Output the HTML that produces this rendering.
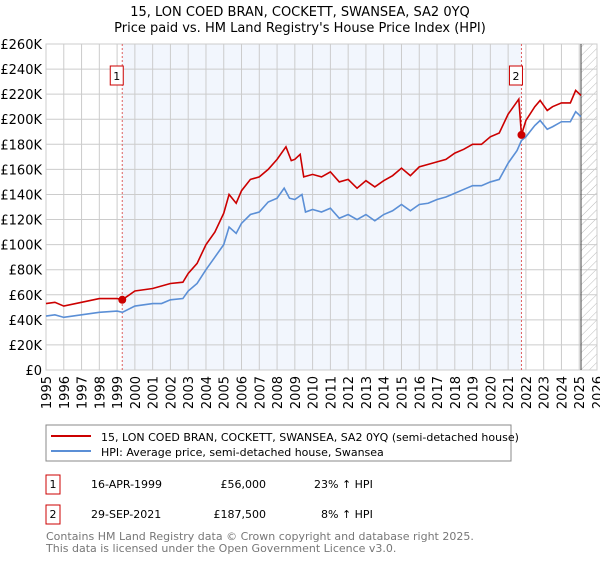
<!DOCTYPE html>
<html><head><meta charset="utf-8"><style>
body{margin:0;background:#fff;font-family:"DejaVu Sans","Liberation Sans",sans-serif;}
svg text{font-family:"DejaVu Sans","Liberation Sans",sans-serif;}
</style></head><body>
<svg id="chart" width="600" height="560" xmlns="http://www.w3.org/2000/svg">
<defs><pattern id="hatch" width="6" height="6" patternUnits="userSpaceOnUse" patternTransform="rotate(45)"><line x1="0" y1="0" x2="0" y2="6" stroke="#bbb" stroke-width="1"/></pattern></defs>
<text x="300" y="16" text-anchor="middle" font-size="13">15, LON COED BRAN, COCKETT, SWANSEA, SA2 0YQ</text>
<text x="300" y="32" text-anchor="middle" font-size="13">Price paid vs. HM Land Registry's House Price Index (HPI)</text>
<g id="plot"></g>
<rect x="46" y="425" width="465" height="36" fill="#fff" stroke="#888"/>
<line x1="51" y1="436" x2="91" y2="436" stroke="#cc0000" stroke-width="2"/>
<text x="101" y="441" font-size="11">15, LON COED BRAN, COCKETT, SWANSEA, SA2 0YQ (semi-detached house)</text>
<line x1="51" y1="451" x2="91" y2="451" stroke="#5b8fd6" stroke-width="2"/>
<text x="101" y="456" font-size="11">HPI: Average price, semi-detached house, Swansea</text>
<g font-size="11">
<rect x="46" y="475" width="14" height="19" fill="#fff" stroke="#cc0000"/>
<text x="53" y="488" text-anchor="middle">1</text>
<text x="91" y="488">16-APR-1999</text><text x="266" y="488" text-anchor="end">£56,000</text><text x="314" y="488">23% ↑ HPI</text>
<rect x="46" y="505" width="14" height="19" fill="#fff" stroke="#cc0000"/>
<text x="53" y="518" text-anchor="middle">2</text>
<text x="91" y="518">29-SEP-2021</text><text x="266" y="518" text-anchor="end">£187,500</text><text x="321" y="518">8% ↑ HPI</text>
</g>
<text x="46" y="540" font-size="11" fill="#777">Contains HM Land Registry data © Crown copyright and database right 2025.</text>
<text x="46" y="552" font-size="11" fill="#777">This data is licensed under the Open Government Licence v3.0.</text>
</svg>
<script>
const hpiYears=[1995,1995.5,1996,1996.5,1997,1998,1999,1999.3,2000,2001,2001.5,2002,2002.7,2003,2003.5,2004,2004.5,2005,2005.3,2005.7,2006,2006.5,2007,2007.5,2008,2008.4,2008.7,2009,2009.4,2009.6,2010,2010.5,2011,2011.5,2012,2012.5,2013,2013.5,2014,2014.5,2015,2015.5,2016,2016.5,2017,2017.5,2018,2018.5,2019,2019.5,2020,2020.5,2021,2021.5,2021.75,2022,2022.5,2022.8,2023.2,2023.5,2024,2024.5,2024.8,2025.1];
const hpiValues=[43,44,42,43,44,46,47,46,51,53,53,56,57,63,69,80,90,100,114,109,117,124,126,134,137,145,137,136,140,126,128,126,129,121,124,120,124,119,124,127,132,127,132,133,136,138,141,144,147,147,150,152,165,175,183,186,195,199,192,194,198,198,206,202];
const priceYears=[1995,1995.5,1996,1997,1998,1999,1999.29,2000,2001,2002,2002.7,2003,2003.5,2004,2004.5,2005,2005.3,2005.7,2006,2006.5,2007,2007.5,2008,2008.5,2008.8,2009,2009.3,2009.5,2010,2010.5,2011,2011.5,2012,2012.5,2013,2013.5,2014,2014.5,2015,2015.5,2016,2016.5,2017,2017.5,2018,2018.5,2019,2019.5,2020,2020.5,2021,2021.5,2021.6,2021.75,2022,2022.5,2022.8,2023.2,2023.5,2024,2024.5,2024.8,2025.1];
const priceValues=[53,54,51,54,57,57,56,63,65,69,70,77,85,100,110,125,140,133,143,152,154,160,168,178,167,168,172,154,156,154,158,150,152,145,151,146,151,155,161,155,162,164,166,168,173,176,180,180,186,189,204,214,216,187.5,199,210,215,207,210,213,213,223,219];
const saleYears=[1999.29,2021.75];
const saleValues=[56,187.5];
const saleLabels=["1","2"];
const yTicks=[0,20,40,60,80,100,120,140,160,180,200,220,240,260];
const xTicks=[1995,1996,1997,1998,1999,2000,2001,2002,2003,2004,2005,2006,2007,2008,2009,2010,2011,2012,2013,2014,2015,2016,2017,2018,2019,2020,2021,2022,2023,2024,2025,2026];
const L=46,R=597,T=44,B=370;
const xs=y=>L+(y-1995)/(2026-1995)*(R-L);
const ys=v=>B-v/260*(B-T);
const g=document.getElementById('plot');
const NS='http://www.w3.org/2000/svg';
function mk(tag,attrs){const e=document.createElementNS(NS,tag);for(const k in attrs)e.setAttribute(k,attrs[k]);g.appendChild(e);return e;}
let e;
e=mk('rect',{x:xs(saleYears[0]),y:T,width:xs(saleYears[1])-xs(saleYears[0]),height:B-T,fill:'#f2f6fd'});


e=mk('rect',{x:xs(2025.1),y:T,width:R-xs(2025.1),height:B-T,fill:'url(#hatch)'});


yTicks.forEach(v=>{
 e=mk('line',{x1:L,x2:R,y1:ys(v),y2:ys(v),stroke:'#ccc'});
 
 
 e=mk('text',{x:L-4,y:ys(v)+5,'text-anchor':'end','font-size':'13'});e.textContent='£'+(v?v+'K':'0');
 
 
});
xTicks.forEach(y=>{
 e=mk('line',{x1:xs(y),x2:xs(y),y1:T,y2:B,stroke:'#ccc'});
 
 
 e=mk('text',{transform:`translate(${xs(y)+5},${B+6}) rotate(-90)`,'text-anchor':'end','font-size':'13'});e.textContent=y;
 
 
});
e=mk('rect',{x:L,y:T,width:R-L,height:B-T,fill:'none',stroke:'#ccc'});


e=mk('line',{x1:xs(2025.1),x2:xs(2025.1),y1:T,y2:B,stroke:'#444'});


saleYears.forEach((y,i)=>{
 e=mk('line',{x1:xs(y),x2:xs(y),y1:T,y2:B,stroke:'#e06060','stroke-dasharray':'2,2'});
 
 
});
e=mk('polyline',{points:hpiYears.map((y,i)=>xs(y)+','+ys(hpiValues[i])).join(' '),fill:'none',stroke:'#5b8fd6','stroke-width':'1.6'});


e=mk('polyline',{points:priceYears.map((y,i)=>xs(y)+','+ys(priceValues[i])).join(' '),fill:'none',stroke:'#cc0000','stroke-width':'1.6'});


saleYears.forEach((y,i)=>{
 e=mk('circle',{cx:xs(y),cy:ys(saleValues[i]),r:4,fill:'#cc0000'});
 
 
 e=mk('rect',{x:xs(y)-12,y:66,width:13,height:19,fill:'#fff',stroke:'#cc0000'});
 
 
 e=mk('text',{x:xs(y)-5.5,y:80,'text-anchor':'middle','font-size':'11'});e.textContent=saleLabels[i];
 
 
});
</script>
</body></html>
